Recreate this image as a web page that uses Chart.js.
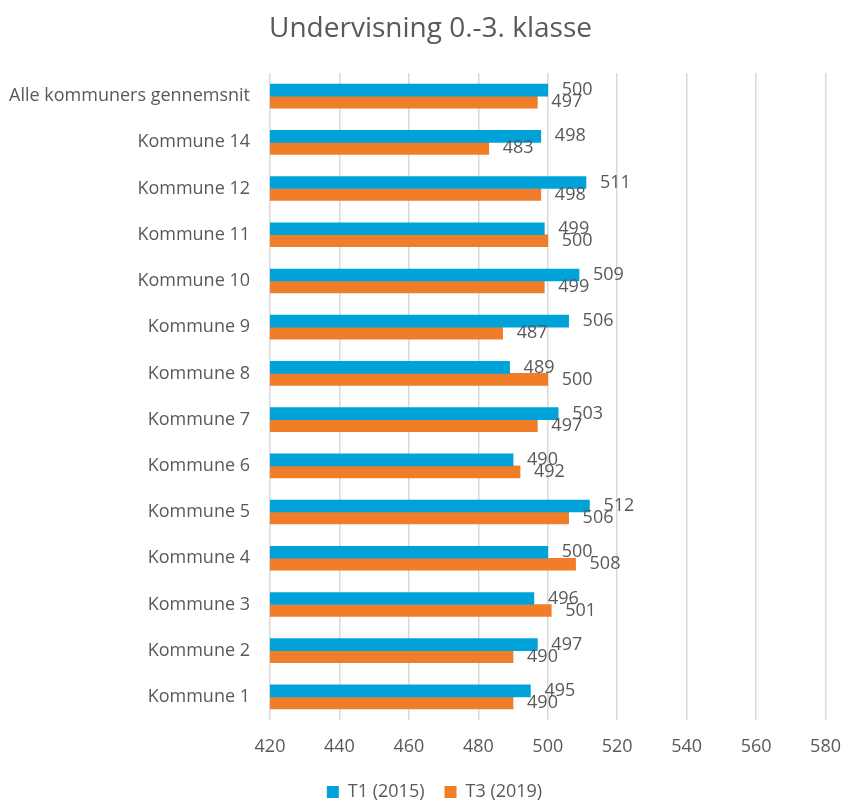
<!DOCTYPE html>
<html>
<head>
<meta charset="utf-8">
<script src="https://cdn.jsdelivr.net/npm/chart.js@4.4.1/dist/chart.umd.min.js"></script>
<style>
  html, body { margin: 0; padding: 0; background: #ffffff; }
  canvas { display: block; }
</style>
</head>
<body>
<canvas id="chart" width="841" height="801"></canvas>
<script>
// ---------- Data ----------
const categories = [
  "Alle kommuners gennemsnit",
  "Kommune 14",
  "Kommune 12",
  "Kommune 11",
  "Kommune 10",
  "Kommune 9",
  "Kommune 8",
  "Kommune 7",
  "Kommune 6",
  "Kommune 5",
  "Kommune 4",
  "Kommune 3",
  "Kommune 2",
  "Kommune 1",
];
const t1Values = [500, 498, 511, 499, 509, 506, 489, 503, 490, 512, 500, 496, 497, 495];
const t3Values = [497, 483, 498, 500, 499, 487, 500, 497, 492, 506, 508, 501, 490, 490];
const seriesNames = ["T1 (2015)", "T3 (2019)"];
const xTicks = [420, 440, 460, 480, 500, 520, 540, 560, 580];

const GREY = "#595959";
const FONT = "'Open Sans', 'DejaVu Sans', sans-serif";

// ---------- Value labels at bar ends ----------
const valueLabels = {
  id: "valueLabels",
  afterDatasetsDraw(chart) {
    const ctx = chart.ctx;
    ctx.save();
    ctx.font = "18px " + FONT;
    ctx.fillStyle = GREY;
    ctx.textAlign = "left";
    ctx.textBaseline = "middle";
    chart.data.datasets.forEach((ds, i) => {
      const meta = chart.getDatasetMeta(i);
      meta.data.forEach((bar, j) => {
        ctx.fillText(String(ds.data[j]), bar.x + 14, bar.y);
      });
    });
    ctx.restore();
  },
};

// title and legend sit a little right of the canvas centre in the original
const shiftBlocks = {
  id: "shiftBlocks",
  afterLayout(chart) {
    const t = chart.titleBlock;
    t.left += 10; t.right += 10;
    const l = chart.legend;
    l.left += 14; l.right += 14;
  },
};

new Chart(document.getElementById("chart"), {
  type: "bar",
  data: {
    labels: categories,
    datasets: [
      { label: seriesNames[0], data: t1Values, backgroundColor: "#00a3d9" },
      { label: seriesNames[1], data: t3Values, backgroundColor: "#f07d28" },
    ],
  },
  options: {
    indexAxis: "y",
    responsive: false,
    animation: false,
    barThickness: 12,
    layout: { padding: { left: 0, right: 0, top: 0, bottom: -10 } },
    plugins: {
      title: {
        display: true,
        text: "Undervisning 0.-3. klasse",
        color: GREY,
        font: { family: FONT, size: 28, weight: "normal" },
        padding: { top: 12, bottom: 27.4 },
      },
      legend: {
        position: "bottom",
        labels: {
          color: GREY,
          font: { family: FONT, size: 18 },
          boxWidth: 12,
          boxHeight: 12,
          padding: 20,
        },
      },
      tooltip: { enabled: false },
    },
    scales: {
      x: {
        type: "linear",
        min: xTicks[0],
        max: xTicks[xTicks.length - 1],
        afterBuildTicks: (s) => { s.ticks = xTicks.map((v) => ({ value: v })); },
        grid: { color: "#d9d9d9", lineWidth: 1.5, drawTicks: true, tickLength: 16, tickColor: "rgba(0,0,0,0)" },
        border: { display: false },
        ticks: { color: GREY, font: { family: FONT, size: 18 }, padding: 0 },
        afterFit: (s) => { s.height = 43; },
      },
      y: {
        grid: { display: false, drawTicks: false },
        border: { display: false },
        ticks: { color: GREY, font: { family: FONT, size: 18 }, padding: 20 },
        afterFit: (s) => { s.width = 270; },
      },
    },
  },
  plugins: [valueLabels, shiftBlocks],
});
</script>
</body>
</html>
